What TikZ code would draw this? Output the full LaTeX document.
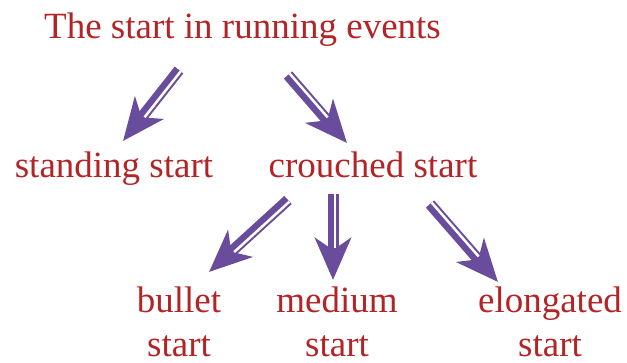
\documentclass[tikz,border=0pt]{standalone}
\usepackage{fontspec}
\setmainfont{Liberation Serif}
\usetikzlibrary{arrows.meta,calc}
\definecolor{txtred}{RGB}{180,36,38}
\definecolor{arrpurple}{RGB}{106,76,156}
\tikzset{
  lbl/.style={text=txtred, font=\fontsize{37}{44}\selectfont, inner sep=0pt, anchor=base, align=center},
  bandarrow/.style={draw=arrpurple, fill=arrpurple, line width=11pt,
    -{Stealth[length=42pt,width=36pt,inset=12pt]}},
  gapline/.style={draw=white, line width=2.5pt}
}
\newcommand{\dblarrow}[2]{%
  \draw[bandarrow] (#1) -- (#2);
  \coordinate (g1) at ($(#1)!2.2pt!90:(#2)$);
  \coordinate (gp) at ($(#2)!32pt!(#1)$);
  \coordinate (g2) at ($(gp)!2.2pt!-90:(#1)$);
  \draw[gapline] (g1) -- (g2);
}
\begin{document}
\begin{tikzpicture}[x=1pt,y=-1pt]
\useasboundingbox (0,0) rectangle (627,362);
\node[lbl] (title) at (242.5,38) {The start in running events};
\node[lbl] (standing) at (114,177) {standing start};
\node[lbl] (crouched) at (373,177) {crouched start};
\node[lbl] (bullet) at (179,356) {bullet\\start};
\node[lbl] (medium) at (337,356) {medium\\start};
\node[lbl] (elong) at (550,356) {elongated\\start};
\coordinate (a1s) at (179,70);  \coordinate (a1e) at (123,141);
\coordinate (a2s) at (288,75);  \coordinate (a2e) at (347,143);
\coordinate (a3s) at (288,200); \coordinate (a3e) at (209,272);
\coordinate (a4s) at (333,194); \coordinate (a4e) at (333,280);
\coordinate (a5s) at (430,204); \coordinate (a5e) at (498,282);
\dblarrow{a1s}{a1e}
\dblarrow{a2s}{a2e}
\dblarrow{a3s}{a3e}
\dblarrow{a4s}{a4e}
\dblarrow{a5s}{a5e}
\end{tikzpicture}
\end{document}
